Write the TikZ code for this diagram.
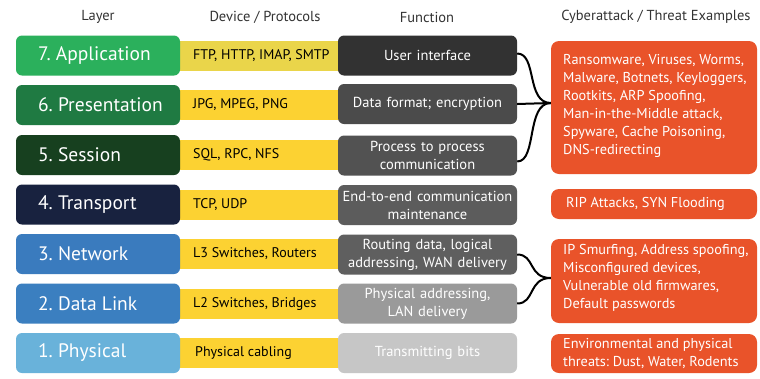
\documentclass[tikz,border=0pt]{standalone}
\usepackage{fontspec}
\setmainfont{PT Sans}
\frenchspacing
\definecolor{lseven}{HTML}{2BB05C}
\definecolor{lsix}{HTML}{1F7A42}
\definecolor{lfive}{HTML}{17401F}
\definecolor{lfour}{HTML}{18223F}
\definecolor{lthree}{HTML}{3A7BBE}
\definecolor{ltwo}{HTML}{3B7FC0}
\definecolor{lone}{HTML}{69B2DA}
\definecolor{yelA}{HTML}{EAD54A}
\definecolor{yelB}{HTML}{FCD232}
\definecolor{fseven}{HTML}{323232}
\definecolor{fsix}{HTML}{4B4B4B}
\definecolor{ffive}{HTML}{525252}
\definecolor{ffour}{HTML}{5C5C5C}
\definecolor{fthree}{HTML}{5F5F5F}
\definecolor{ftwo}{HTML}{9A9A9A}
\definecolor{fone}{HTML}{C6C6C6}
\definecolor{threat}{HTML}{E9532A}
\definecolor{hdr}{HTML}{333333}
\begin{document}
\begin{tikzpicture}[x=1pt,y=-1pt,
  hdrtext/.style={text=hdr,font=\fontsize{14.5}{16}\selectfont,inner sep=0pt},
  layerbox/.style={rectangle,rounded corners=6pt,minimum width=164pt,minimum height=40pt,
    text width=120pt,inner xsep=22pt,inner ysep=0pt,align=flush left,text=white,
    font=\fontsize{19.5}{22}\selectfont},
  prototext/.style={anchor=west,inner sep=0pt,text=black,font=\fontsize{14}{16}\selectfont},
  funcbox/.style={rectangle,rounded corners=6pt,minimum width=179pt,minimum height=40pt,
    text width=175pt,inner xsep=2pt,inner ysep=0pt,align=center,text=white,
    font=\fontsize{14.5}{18}\selectfont},
  threatbox/.style={rectangle,rounded corners=8pt,fill=threat,minimum width=206pt,inner sep=0pt},
  threattext/.style={anchor=west,inner sep=0pt,align=left,text=white,
    font=\fontsize{14.3}{18}\selectfont},
  link/.style={draw=black,line width=2pt}]
\useasboundingbox (0,0) rectangle (760,378);
\fill[white] (0,0) rectangle (760,378);
% headers
\node[hdrtext] (h1) at (98,17) {Layer};
\node[hdrtext] (h2) at (265,17) {Device / Protocols};
\node[hdrtext] (h3) at (427,17) {Function};
\node[hdrtext] (h4) at (656,17) {Cyberattack / Threat Examples};
% yellow bands
\fill[yelA] (180,40.5) rectangle (340,70.5);
\foreach \yy in {105,155,204.5,254,303.5,353} \fill[yelB] (180,\yy-15) rectangle (340,\yy+15);
\node[prototext] (p7) at (193,55.5) {FTP, HTTP, IMAP, SMTP};
\node[prototext] (p6) at (193,105) {JPG, MPEG, PNG};
\node[prototext] (p5) at (193,155) {SQL, RPC, NFS};
\node[prototext] (p4) at (193,204.5) {TCP, UDP};
\node[prototext] (p3) at (193,254) {L3 Switches, Routers};
\node[prototext] (p2) at (193,303.5) {L2 Switches, Bridges};
\node[prototext] (p1) at (195,353) {Physical cabling};
% layer boxes
\node[layerbox,fill=lseven] (l7) at (98,55.5) {\makebox[0pt][l]{7. Application}};
\node[layerbox,fill=lsix] (l6) at (98,105) {\makebox[0pt][l]{6. Presentation}};
\node[layerbox,fill=lfive] (l5) at (98,155) {\makebox[0pt][l]{5. Session}};
\node[layerbox,fill=lfour] (l4) at (98,204.5) {\makebox[0pt][l]{4. Transport}};
\node[layerbox,fill=lthree] (l3) at (98,254) {\makebox[0pt][l]{3. Network}};
\node[layerbox,fill=ltwo] (l2) at (98,303.5) {\makebox[0pt][l]{2. Data Link}};
\node[layerbox,fill=lone] (l1) at (98,353) {\makebox[0pt][l]{1. Physical}};
% function boxes
\node[funcbox,fill=fseven] (f7) at (427.5,55.5) {User interface};
\node[funcbox,fill=fsix] (f6) at (427.5,104) {Data format; encryption};
\node[funcbox,fill=ffive] (f5) at (427.5,155.5) {Process to process\\communication};
\node[funcbox,fill=ffour] (f4) at (427.5,205) {End-to-end communication\\maintenance};
\node[funcbox,fill=fthree] (f3) at (427.5,254.5) {Routing data, logical\\addressing, WAN delivery};
\node[funcbox,fill=ftwo] (f2) at (427.5,303.5) {Physical addressing,\\LAN delivery};
\node[funcbox,fill=fone] (f1) at (427.5,353) {Transmitting bits};
% threat boxes
\node[threatbox,minimum height=133pt] (t1) at (654,107.5) {};
\node[threatbox,minimum height=30pt] (t2) at (654,204) {};
\node[threatbox,minimum height=84pt] (t3) at (654,281) {};
\node[threatbox,minimum height=39pt] (t4) at (654,353.5) {};
\node[threattext] (tt1) at (563,106) {Ransomware, Viruses, Worms,\\Malware, Botnets, Keyloggers,\\Rootkits, ARP Spoofing,\\Man-in-the-Middle attack,\\Spyware, Cache Poisoning,\\DNS-redirecting};
\node[threattext] (tt2) at (566,204) {RIP Attacks, SYN Flooding};
\node[threattext] (tt3) at (563,278) {IP Smurfing, Address spoofing,\\Misconfigured devices,\\Vulnerable old firmwares,\\Default passwords};
\node[threattext] (tt4) at (563,353) {Environmental and physical\\threats: Dust, Water, Rodents};
% connectors
\coordinate (m1) at (t1.west |- 0,103);
\coordinate (m2) at (t3.west |- 0,278);
\draw[link] ([yshift=2pt]f7.east) .. controls +(20,0) and (526,103) .. (m1);
\draw[link] (f6.east) -- (m1);
\draw[link] ([yshift=-6pt]f5.east) .. controls +(20,0) and (526,103) .. (m1);
\draw[link] (f3.east) .. controls +(18,0) and (528,278) .. (m2);
\draw[link] (f2.east) .. controls +(18,0) and (528,278) .. (m2);
\end{tikzpicture}
\end{document}
